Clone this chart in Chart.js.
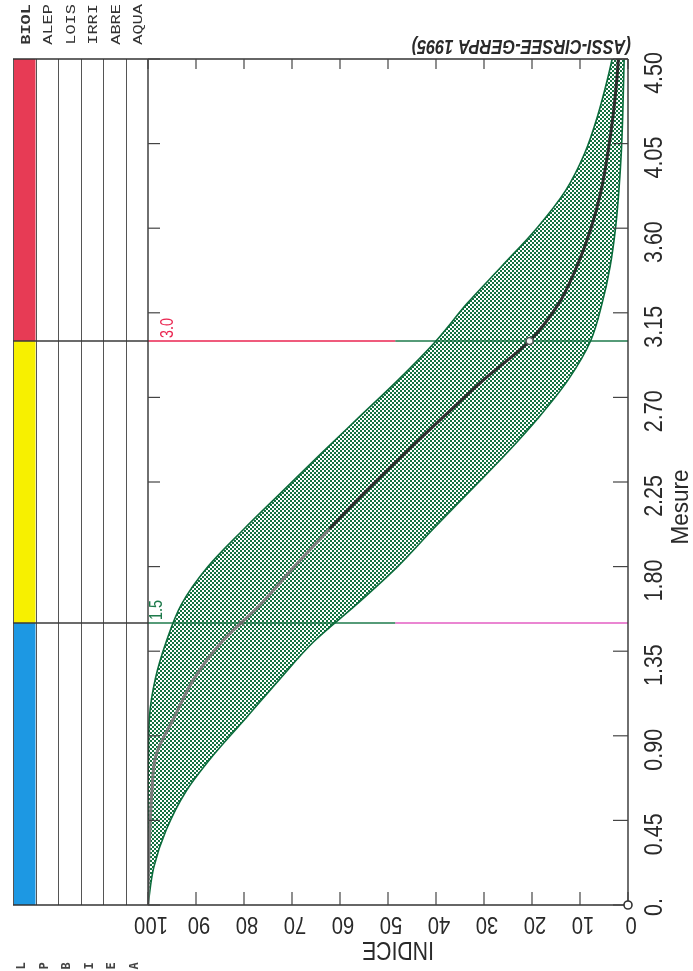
<!DOCTYPE html>
<html>
<head>
<meta charset="utf-8">
<title>Indice - Mesure</title>
<script src="https://cdn.jsdelivr.net/npm/chart.js@4.4.1/dist/chart.umd.min.js"></script>
<style>
  html, body { margin: 0; padding: 0; background: #fff; }
  #wrap { position: relative; width: 693px; height: 971px; }
</style>
</head>
<body>
<div id="wrap"><canvas id="chart"></canvas></div>
<script>
// Courbe Indice = f(Mesure) avec son enveloppe (ASSI-CIRSEE-GERPA 1995)

const mesure = [0, 0.2, 0.4, 0.6, 0.8, 1.0, 1.2, 1.4, 1.6, 1.8, 2.0, 2.2, 2.4, 2.6, 2.8, 3.0, 3.2, 3.4, 3.6, 3.8, 4.0, 4.2, 4.4, 4.5];
const indiceMedian = [100, 99.9, 99.6, 99.2, 98.3, 94.5, 90.5, 84.6, 76.5, 69.5, 62.2, 54.6, 46.6, 38.3, 29.8, 20.5, 14.4, 10.6, 7.7, 5.6, 4.2, 3.1, 2.3, 2.0];
const indiceHigh = [100, 100, 100, 100, 99.9, 99.7, 98.5, 96.2, 93.0, 87.5, 80.0, 72.0, 64.0, 55.8, 47.6, 40.0, 33.5, 26.2, 19.0, 13.0, 9.0, 6.3, 4.2, 3.3];
const indiceLow = [100, 98.8, 96.2, 92.2, 86.3, 79.4, 72.6, 65.5, 56.5, 48.0, 40.6, 33.0, 25.4, 18.4, 12.3, 7.8, 5.4, 3.7, 2.6, 1.9, 1.4, 1.1, 0.9, 0.8];

// seuils de classe sur la mesure
const thresholds = [1.5, 3.0];
const thresholdLabels = ['1.5', '3.0'];
const thresholdCross = [80.5, 20.5];     // indice de la courbe au seuil
const thresholdSplit = [48.5, 48.5];     // changement de couleur du trait
const thresholdColors = [['#1e7a4b', '#ea86d2'], ['#ea2550', '#1e7a4b']];

// bande BIOL
const classBounds = [0, 1.5, 3.0, 4.5];
const classColors = ['#1d98e3', '#f7f000', '#e73b55'];

const colLabels = ['BIOL', 'ALEP', 'LOIS', 'IRRI', 'ABRE', 'AQUA'];
const footLetters = ['L', 'P', 'B', 'I', 'E', 'A'];

const mesureTicks = [0, 0.45, 0.9, 1.35, 1.8, 2.25, 2.7, 3.15, 3.6, 4.05, 4.5];
const mesureTickLabels = ['0.', '0.45', '0.90', '1.35', '1.80', '2.25', '2.70', '3.15', '3.60', '4.05', '4.50'];
const indiceTicks = [0, 10, 20, 30, 40, 50, 60, 70, 80, 90, 100];

const COL_W = 22.5;
const GREEN = '#0b6b3b';
const UP = -Math.PI / 2;

// trame de l'enveloppe
function makeDots() {
    const tile = document.createElement('canvas');
    tile.width = 4;
    tile.height = 4;
    const t = tile.getContext('2d');
    t.fillStyle = 'rgba(11, 107, 59, 0.14)';
    t.fillRect(0, 0, 4, 4);
    t.clearRect(0, 0, 2, 2);
    t.clearRect(2, 2, 2, 2);
    t.fillStyle = '#13703f';
    t.fillRect(0, 2, 2, 2);
    t.fillRect(2, 0, 2, 2);
    return document.getElementById('chart').getContext('2d').createPattern(tile, 'repeat');
}

const pts = vals => mesure.map((m, i) => ({ x: vals[i], y: m }));

function seg(ctx, x1, y1, x2, y2) {
    ctx.beginPath();
    ctx.moveTo(x1, y1);
    ctx.lineTo(x2, y2);
    ctx.stroke();
}

function text(ctx, str, x, y, o) {
    ctx.save();
    ctx.translate(x, y);
    ctx.rotate(o.rot || 0);
    ctx.scale(o.sx || 1, o.sy || 1);
    ctx.font = o.font;
    ctx.fillStyle = o.color || '#2a2a2a';
    ctx.textAlign = o.align || 'center';
    ctx.textBaseline = o.baseline || 'middle';
    ctx.fillText(str, 0, 0);
    ctx.restore();
}

// colonnes a gauche + cadre, graduations et textes
const sheetPlugin = {
    id: 'sheet',
    beforeDatasetsDraw(chart) {
        const { ctx, chartArea: a, scales: { y } } = chart;
        const left = a.left - COL_W * colLabels.length;
        ctx.save();
        classColors.forEach((c, i) => {
            const yTop = y.getPixelForValue(classBounds[i + 1]);
            const yBot = y.getPixelForValue(classBounds[i]);
            ctx.fillStyle = c;
            ctx.fillRect(left, yTop, COL_W, yBot - yTop);
        });
        ctx.strokeStyle = '#555';
        ctx.lineWidth = 1;
        for (let k = 0; k < colLabels.length; k++) {
            const cx = Math.round(left + k * COL_W) + 0.5;
            seg(ctx, cx, a.top, cx, a.bottom);
        }
        ctx.strokeStyle = '#3a3a3a';
        ctx.lineWidth = 1.5;
        thresholds.forEach(t => {
            const ty = y.getPixelForValue(t);
            seg(ctx, left, ty, a.left, ty);
        });
        ctx.restore();
    },
    afterDatasetsDraw(chart) {
        const { ctx, chartArea: a, scales: { x, y } } = chart;
        const left = a.left - COL_W * colLabels.length;
        ctx.save();
        ctx.strokeStyle = '#333';
        ctx.lineWidth = 1.4;
        seg(ctx, left, a.top, a.right, a.top);
        seg(ctx, left, a.bottom, a.right, a.bottom);
        seg(ctx, a.left, a.top, a.left, a.bottom);
        seg(ctx, a.right, a.top, a.right, a.bottom);

        ctx.lineWidth = 1.2;
        ctx.strokeStyle = '#444';
        mesureTicks.forEach(m => {
            const ty = y.getPixelForValue(m);
            seg(ctx, a.left, ty, a.left + 12, ty);
            seg(ctx, a.right, ty, a.right - 15, ty);
        });
        indiceTicks.forEach(v => {
            const tx = x.getPixelForValue(v);
            seg(ctx, tx, a.bottom, tx, a.bottom - 13);
            seg(ctx, tx, a.top, tx, a.top + 10);
        });

        // origine
        ctx.lineWidth = 1.6;
        ctx.strokeStyle = '#333';
        ctx.fillStyle = '#fff';
        ctx.beginPath();
        ctx.arc(x.getPixelForValue(0), y.getPixelForValue(0), 4, 0, Math.PI * 2);
        ctx.fill();
        ctx.stroke();
        ctx.restore();

        const num = '25px "Liberation Sans", Arial, sans-serif';
        mesureTicks.forEach((m, i) => {
            text(ctx, mesureTickLabels[i], a.right + 27, y.getPixelForValue(m) - 7,
                { rot: UP, sx: 0.86, font: num, align: 'right' });
        });
        text(ctx, 'Mesure', a.right + 53, (a.top + a.bottom) / 2 + 25,
            { rot: UP, sx: 0.94, font: '24px "Liberation Sans", Arial, sans-serif' });

        indiceTicks.forEach(v => {
            text(ctx, String(v), x.getPixelForValue(v) + 3, a.bottom + 18,
                { rot: Math.PI, sx: 0.88, font: '23px "Liberation Sans", Arial, sans-serif' });
        });
        text(ctx, 'INDICE', (a.left + a.right) / 2 + 10, a.bottom + 44,
            { rot: Math.PI, sx: 0.85, font: '25px "Liberation Sans", Arial, sans-serif' });

        text(ctx, '(ASSI-CIRSEE-GERPA 1995)', a.right + 3, a.top - 13,
            { rot: Math.PI, sx: 0.82, align: 'left', font: 'bold italic 20px "Liberation Sans", Arial, sans-serif' });

        // libelles des colonnes, lus de bas en haut
        colLabels.forEach((s, k) => {
            const cx = left + (k + 0.5) * COL_W + 2;
            text(ctx, s, cx, 4, {
                rot: UP, sy: 0.8, align: 'right', color: '#333',
                font: (k === 0 ? 'bold ' : '') + '17px "Liberation Mono", "DejaVu Sans Mono", monospace'
            });
        });
        footLetters.forEach((s, k) => {
            const cx = left + (k + 0.5) * COL_W - 2;
            text(ctx, s, cx, a.bottom + 61, {
                rot: UP, color: '#444',
                font: 'bold 12px "DejaVu Sans Mono", monospace'
            });
        });

        // etiquettes des seuils, couleur du premier troncon
        const offs = [9, 20];
        thresholds.forEach((t, i) => {
            text(ctx, thresholdLabels[i], a.left + offs[i], y.getPixelForValue(t) - 3, {
                rot: UP, sx: 0.8, align: 'left', color: thresholdColors[i][0],
                font: '18px "Liberation Sans", Arial, sans-serif'
            });
        });
    }
};

const datasets = [
    {
        // point de passage aux seuils
        data: thresholds.map((t, i) => ({ x: thresholdCross[i], y: t })),
        showLine: false,
        pointStyle: ['crossRot', 'circle'],
        pointRadius: [4, 3.5],
        pointBorderWidth: 1.5,
        pointBorderColor: ['#666', '#555'],
        pointBackgroundColor: '#f4f4f4',
        order: -1
    },
    {
        // courbe moyenne
        data: pts(indiceMedian),
        borderColor: '#2d2d2d',
        borderWidth: 3,
        pointRadius: 0,
        cubicInterpolationMode: 'monotone',
        segment: { borderColor: c => c.p1.parsed.y <= 2.15 ? '#7b7b7b' : '#2d2d2d' },
        order: 0
    },
    {
        data: pts(indiceHigh),
        borderColor: GREEN,
        borderWidth: 1.6,
        pointRadius: 0,
        cubicInterpolationMode: 'monotone',
        fill: '+1',
        backgroundColor: makeDots(),
        order: 3
    },
    {
        data: pts(indiceLow),
        borderColor: GREEN,
        borderWidth: 1.6,
        pointRadius: 0,
        cubicInterpolationMode: 'monotone',
        order: 2
    }
];

// traits de seuil
thresholds.forEach((t, i) => {
    datasets.push({
        data: [{ x: 100, y: t }, { x: thresholdSplit[i], y: t }],
        borderColor: thresholdColors[i][0], borderWidth: 1.7, pointRadius: 0, order: 5
    });
    datasets.push({
        data: [{ x: thresholdSplit[i], y: t }, { x: 0, y: t }],
        borderColor: thresholdColors[i][1], borderWidth: i === 0 ? 2.2 : 1.7, pointRadius: 0, order: 5
    });
});

new Chart(document.getElementById('chart'), {
    type: 'line',
    data: { datasets: datasets },
    options: {
        indexAxis: 'y',
        responsive: true,
        maintainAspectRatio: false,
        animation: false,
        layout: { padding: { left: 148, right: 65, top: 59, bottom: 66 } },
        plugins: { legend: { display: false }, tooltip: { enabled: false } },
        scales: {
            x: { type: 'linear', min: 0, max: 100, reverse: true, display: false },
            y: { type: 'linear', min: 0, max: 4.5, display: false }
        }
    },
    plugins: [sheetPlugin]
});
</script>
</body>
</html>
